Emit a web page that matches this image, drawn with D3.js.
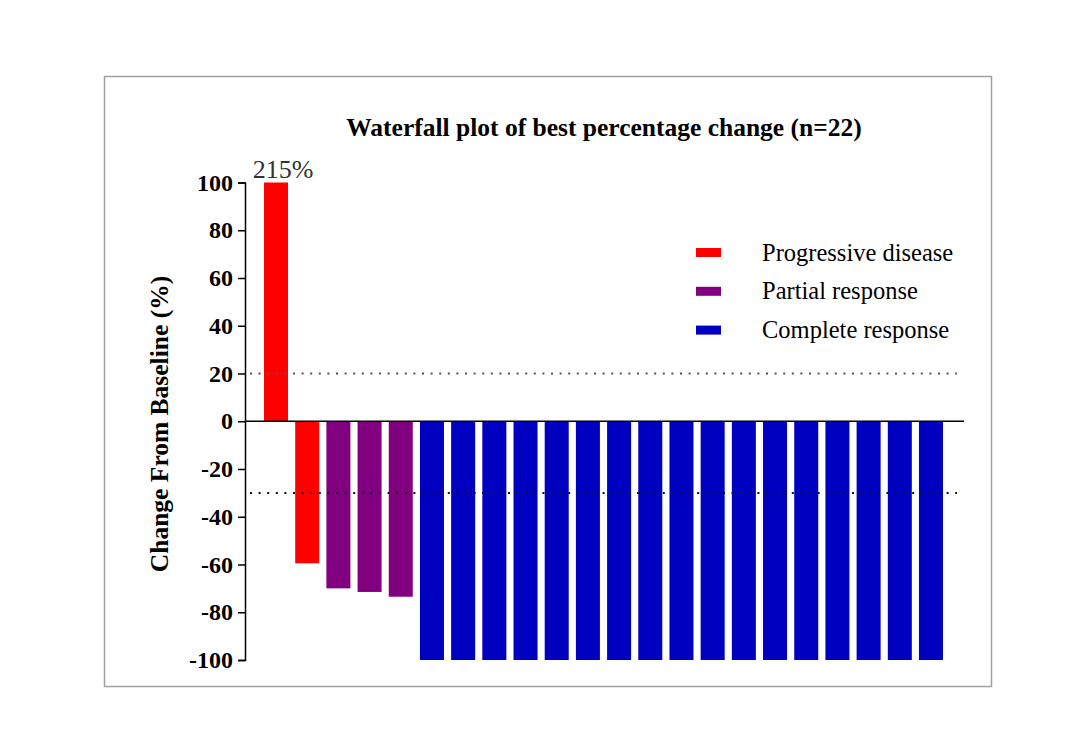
<!DOCTYPE html>
<html><head><meta charset="utf-8">
<script src="https://cdn.jsdelivr.net/npm/d3@7"></script>
<style>body{margin:0;background:#fff}svg{display:block}</style>
</head><body>
<svg id="c" width="1080" height="754"></svg>
<script>
const patients = d3.range(1, 23);
const values = [100, -59.5, -70, -71.5, -73.5, -100, -100, -100, -100, -100, -100, -100, -100, -100, -100, -100, -100, -100, -100, -100, -100, -100];
const responses = ["PD","PD","PR","PR","PR","CR","CR","CR","CR","CR","CR","CR","CR","CR","CR","CR","CR","CR","CR","CR","CR","CR"];
const legendKeys = ["PD","PR","CR"];
const legendLabels = ["Progressive disease","Partial response","Complete response"];
const colors = ["#FF0000","#800080","#0000C0"];
const yTicks = [100,80,60,40,20,0,-20,-40,-60,-80,-100];
const refLines = [20, -30];
const capLabel = "215%";
const title = "Waterfall plot of best percentage change (n=22)";
const yTitle = "Change From Baseline (%)";

const svg = d3.select("#c");
const serif = "'Liberation Serif','Times New Roman',serif";

svg.append("rect").attr("x",104.5).attr("y",76.5).attr("width",887).attr("height",610)
  .attr("fill","#fff").attr("stroke","#a0a0a0").attr("stroke-width",1.5);

const y = d3.scaleLinear().domain([-100,100]).range([660,182.5]);
const x = d3.scaleBand().domain(patients).range([264,943]).paddingInner(0.23).paddingOuter(0);
const color = d3.scaleOrdinal().domain(legendKeys).range(colors);

// bars
svg.append("g").selectAll("rect").data(values).join("rect")
  .attr("x",(d,i)=>x(patients[i]))
  .attr("width",x.bandwidth())
  .attr("y",d=>y(Math.max(0,d)))
  .attr("height",d=>Math.abs(y(d)-y(0)))
  .attr("fill",(d,i)=>color(responses[i]));

// reference lines
svg.append("g").selectAll("line").data(refLines).join("line")
  .attr("x1",250).attr("x2",957)
  .attr("y1",d=>y(d)).attr("y2",d=>y(d))
  .attr("stroke",(d,i)=>i===0?"#555":"#111").attr("stroke-width",2)
  .attr("stroke-dasharray","2,6.6");

// zero line
svg.append("line").attr("x1",245).attr("x2",964).attr("y1",y(0)).attr("y2",y(0))
  .attr("stroke","#000").attr("stroke-width",1.5);

// y axis
const ax = svg.append("g").attr("transform","translate(245,0)")
  .call(d3.axisLeft(y).tickValues(yTicks).tickSize(7).tickPadding(5).tickFormat(d=>String(d)));
ax.select(".domain").attr("stroke","#000").attr("stroke-width",1.5);
ax.selectAll(".tick line").attr("stroke","#000").attr("stroke-width",1.5);
ax.selectAll(".tick text").attr("font-family",serif).attr("font-weight","bold")
  .attr("font-size",24).attr("fill","#000");

// cap label
svg.append("text").attr("x",x(patients[0])+x.bandwidth()/2+7).attr("y",178)
  .attr("text-anchor","middle").attr("font-family",serif).attr("font-size",26)
  .attr("fill","#333").text(capLabel);

// title
svg.append("text").attr("x",604).attr("y",136).attr("text-anchor","middle")
  .attr("font-family",serif).attr("font-weight","bold").attr("font-size",25.5)
  .attr("fill","#000").text(title);

// y title
svg.append("text").attr("transform","translate(168,424) rotate(-90)")
  .attr("text-anchor","middle").attr("font-family",serif).attr("font-weight","bold")
  .attr("font-size",25.5).attr("fill","#000").text(yTitle);

// legend
const lg = svg.append("g").selectAll("g").data(legendKeys).join("g")
  .attr("transform",(d,i)=>`translate(696,${252.5+i*38.8})`);
lg.append("rect").attr("x",0).attr("y",-4.5).attr("width",25).attr("height",9)
  .attr("fill",d=>color(d));
lg.append("text").attr("x",66).attr("y",8).attr("font-family",serif)
  .attr("font-size",24.5).attr("fill","#000").text((d,i)=>legendLabels[i]);
</script>
</body></html>
